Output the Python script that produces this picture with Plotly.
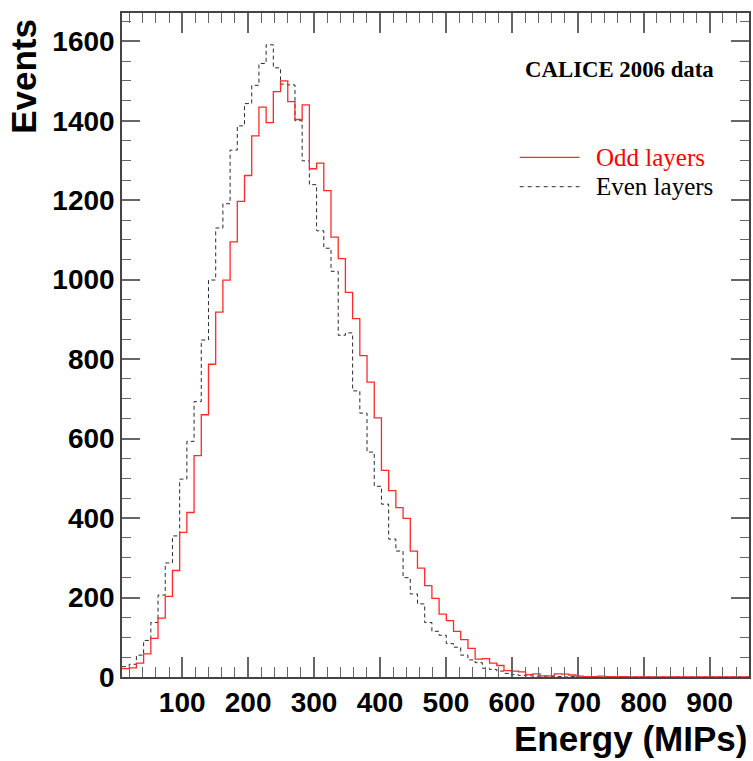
import plotly.graph_objects as go

# ---- data ----
bin_low = 8.7
bin_width = 10.93

odd_layers = [21, 23, 35, 58, 97, 148, 203, 268, 364, 414,
              557, 660, 787, 918, 999, 1095, 1197, 1262, 1362, 1434,
              1395, 1473, 1500, 1448, 1403, 1440, 1279, 1293, 1224, 1107,
              1053, 968, 902, 809, 742, 652, 520, 469, 426, 399,
              317, 274, 230, 198, 158, 142, 115, 94, 72, 45,
              46, 35, 29, 16, 15, 13, 6, 8, 3, 3,
              8, 7, 5, 2, 1, 1, 2, 1, 0, 1,
              0, 0, 0, 0, 0, 0, 0, 0, 0, 0,
              0, 0, 0, 0, 0, 0, 0]
even_layers = [26, 32, 55, 92, 137, 206, 287, 355, 498, 593,
               693, 848, 999, 1130, 1191, 1326, 1387, 1443, 1489, 1544,
               1591, 1533, 1492, 1490, 1400, 1299, 1239, 1123, 1079, 1021,
               860, 866, 720, 664, 566, 480, 435, 347, 317, 250,
               209, 184, 137, 115, 105, 84, 75, 55, 43, 36,
               22, 19, 15, 9, 6, 4, 3, 2, 2, 1,
               1, 0, 1, 0, 0, 0, 0, 0, 0, 0,
               0, 0, 0, 0, 0, 0, 0, 0, 0, 0,
               0, 0, 0, 0, 0, 0, 0]
x_ticks = [100, 200, 300, 400, 500, 600, 700, 800, 900]
y_ticks = [0, 200, 400, 600, 800, 1000, 1200, 1400, 1600]
x_title = "Energy (MIPs)"
y_title = "Events"
label_text = "CALICE 2006 data"
series_names = ["Odd layers", "Even layers"]

n_bins = len(odd_layers)
edges = [bin_low + i * bin_width for i in range(n_bins + 1)]
x_hi = edges[-1]

fig = go.Figure()
fig.add_trace(go.Scatter(
    x=edges, y=even_layers + [even_layers[-1]], mode="lines",
    line=dict(shape="hv", color="#2a2a2a", width=1, dash="4px,3px"),
    name=series_names[1], showlegend=False, hoverinfo="skip"))
fig.add_trace(go.Scatter(
    x=edges, y=odd_layers + [odd_layers[-1]], mode="lines",
    line=dict(shape="hv", color="#ff2a2a", width=1.3),
    name=series_names[0], showlegend=False, hoverinfo="skip"))

tickfont = dict(family="Liberation Sans, Arial, sans-serif", size=28,
                color="black", weight="bold")
axis_common = dict(showgrid=False, zeroline=False, showline=True,
                   linecolor="#444444", linewidth=1.5, mirror="ticks",
                   ticks="inside", tickcolor="#666666", tickwidth=1.5,
                   tickfont=tickfont)

fig.update_xaxes(range=[bin_low, x_hi], tickvals=x_ticks, ticklen=20,
                 minor=dict(dtick=20, tick0=0, ticklen=10, ticks="inside",
                            tickcolor="#666666", tickwidth=1.2),
                 **axis_common)
fig.update_yaxes(range=[0, 1671], tickvals=y_ticks, ticklen=18,
                 minor=dict(dtick=50, tick0=0, ticklen=9, ticks="inside",
                            tickcolor="#666666", tickwidth=1.2),
                 **axis_common)

L, R, T, B = 122, 2, 13, 84
W, H = 753, 761
pw, ph = W - L - R, H - T - B


def px(xp):
    return (xp - L) / pw


def py(yp):
    return (H - B - yp) / ph


title_font = dict(family="Liberation Sans, Arial, sans-serif", size=35,
                  color="black", weight="bold")
serif = "Liberation Serif, Times New Roman, serif"

annotations = [
    dict(text=x_title, x=px(751), y=py(760), xref="paper", yref="paper",
         xanchor="right", yanchor="bottom", showarrow=False, font=title_font),
    dict(text=y_title, x=px(23), y=py(17), xref="paper", yref="paper",
         xanchor="center", yanchor="top", textangle=-90, showarrow=False,
         font=title_font),
    dict(text=label_text, x=px(524), y=py(70), xref="paper", yref="paper",
         xanchor="left", yanchor="middle", showarrow=False,
         font=dict(family=serif, size=22.8, color="black", weight="bold")),
    dict(text=series_names[0], x=px(596), y=py(157), xref="paper", yref="paper",
         xanchor="left", yanchor="middle", showarrow=False,
         font=dict(family=serif, size=25, color="#ff0000")),
    dict(text=series_names[1], x=px(596), y=py(186), xref="paper", yref="paper",
         xanchor="left", yanchor="middle", showarrow=False,
         font=dict(family=serif, size=25, color="black")),
]
shapes = [
    dict(type="line", xref="paper", yref="paper", x0=px(521), x1=px(581),
         y0=py(157.3), y1=py(157.3), line=dict(color="#ff2a2a", width=1.2)),
    dict(type="line", xref="paper", yref="paper", x0=px(521), x1=px(581),
         y0=py(186.7), y1=py(186.7),
         line=dict(color="#2a2a2a", width=1, dash="4px,4px")),
]

fig.update_layout(width=W, height=H, margin=dict(l=L, r=R, t=T, b=B),
                  plot_bgcolor="white", paper_bgcolor="white",
                  showlegend=False, annotations=annotations, shapes=shapes)

fig.write_html("out.html",
               config={"displayModeBar": False},
               post_script="document.body.style.margin='0';"
                           "document.body.style.overflow='hidden';")
